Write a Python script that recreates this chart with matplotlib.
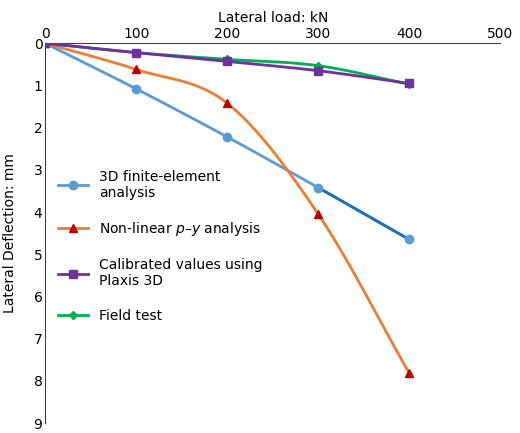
import numpy as np
import matplotlib.pyplot as plt

loads = [0, 100, 200, 300, 400]
fe_3d = [0, 1.08, 2.22, 3.42, 4.65]
py_nonlinear = [0, 0.62, 1.42, 4.05, 7.82]
plaxis = [0, 0.22, 0.43, 0.65, 0.95]
field = [0, 0.22, 0.38, 0.53, 0.97]


def smooth(x, y, n=20):
    # Catmull-Rom through the points, like Excel's smoothed lines
    x = np.asarray(x, float); y = np.asarray(y, float)
    px = np.concatenate([[2*x[0]-x[1]], x, [2*x[-1]-x[-2]]])
    py = np.concatenate([[2*y[0]-y[1]], y, [2*y[-1]-y[-2]]])
    xs, ys = [], []
    t = np.linspace(0, 1, n)
    for i in range(1, len(px)-2):
        for p, out in ((px, xs), (py, ys)):
            p0, p1, p2, p3 = p[i-1], p[i], p[i+1], p[i+2]
            out.extend(0.5*(2*p1 + (-p0+p2)*t + (2*p0-5*p1+4*p2-p3)*t**2
                            + (-p0+3*p1-3*p2+p3)*t**3))
    return np.array(xs), np.array(ys)


fig = plt.figure(figsize=(5.2, 4.33), dpi=100)
ax = fig.add_axes([0.087, 0.023, 0.875, 0.877])

series = [
    (fe_3d, '#5B9BD5', 'o', '3D finite-element\nanalysis', '#5B9BD5', 2),
    (py_nonlinear, '#ED7D31', '^', 'Non-linear $p$–$y$ analysis', '#C00000', 2),
    (field, '#00B050', 'D', 'Field test', '#00B050', 3),
    (plaxis, '#7030A0', 's', 'Calibrated values using\nPlaxis 3D', '#7030A0', 4),
]
handles = {}
for vals, col, mk, lab, mcol, z in series:
    sx, sy = smooth(loads, vals)
    ax.plot(sx, sy, color=col, lw=2, zorder=z)
    ax.plot(loads, vals, ls='none', marker=mk, color=mcol,
            ms=6 if mk != 'D' else 4, zorder=z + 0.5)
    handles[lab], = ax.plot([], [], color=col, lw=2, marker=mk, markerfacecolor=mcol,
                            markeredgecolor=mcol, ms=6 if mk != 'D' else 4, label=lab)

# darker segment on the finite-element line
sx, sy = smooth(loads[3:], fe_3d[3:])
ax.plot(sx, sy, color='#1F6FB5', lw=2, zorder=2)

ax.set_xlim(0, 500)
ax.set_ylim(9, 0)
ax.xaxis.tick_top()
ax.xaxis.set_label_position('top')
ax.set_xticks(range(0, 501, 100))
ax.set_yticks(range(0, 10))
ax.tick_params(labelsize=10, length=0, pad=2)
ax.set_xlabel('Lateral load: kN', fontsize=10, labelpad=3)
ax.set_ylabel('Lateral Deflection: mm', fontsize=10, labelpad=12)
for s in ('right', 'bottom'):
    ax.spines[s].set_visible(False)
for s in ('left', 'top'):
    ax.spines[s].set_color('#404040')

order = [s[3] for s in series]
order = [order[0], order[1], order[3], order[2]]
ax.legend([handles[k] for k in order], order, loc='upper left',
          bbox_to_anchor=(0.0, 0.70), frameon=False,
          fontsize=10, labelspacing=1.45, handlelength=2.2)

fig.savefig('out.png', dpi=100)
